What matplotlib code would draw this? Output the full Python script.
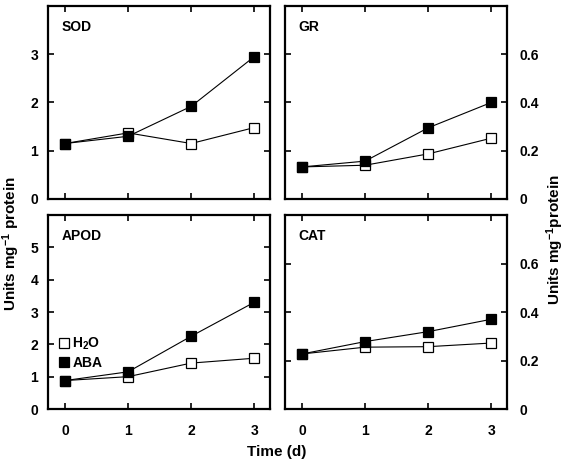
import matplotlib
matplotlib.use("Agg")
import matplotlib.pyplot as plt

plt.rcParams['font.family'] = ['Liberation Sans', 'DejaVu Sans']
plt.rcParams['mathtext.default'] = 'regular'

# Data
days = [0, 1, 2, 3]
sod_h2o = [1.15, 1.37, 1.15, 1.48]
sod_aba = [1.15, 1.30, 1.92, 2.95]
gr_h2o = [0.133, 0.14, 0.187, 0.252]
gr_aba = [0.133, 0.157, 0.295, 0.40]
apod_h2o = [0.88, 1.00, 1.42, 1.57]
apod_aba = [0.88, 1.15, 2.25, 3.30]
cat_h2o = [0.227, 0.255, 0.257, 0.272]
cat_aba = [0.227, 0.278, 0.319, 0.370]

W, H = 565, 461
fig = plt.figure(figsize=(W / 100, H / 100), dpi=100)


def px_axes(left, right, top, bottom):
    return fig.add_axes([left / W, (H - bottom) / H, (right - left) / W, (bottom - top) / H])


def style(ax, name, ylim, yticks, ylabels, right=False, xlabels=False):
    ax.set_xlim(-0.27, 3.25)
    ax.set_ylim(*ylim)
    ax.set_xticks(days)
    ax.set_yticks(yticks)
    ax.set_yticklabels(ylabels)
    ax.tick_params(direction='in', length=4, width=1.2, top=True, right=True,
                   labelsize=10, pad=7)
    ax.tick_params(axis='x', pad=11)
    if right:
        ax.yaxis.tick_right()
        ax.tick_params(axis='y', left=True, right=True, labelleft=False,
                       labelright=True, pad=9)
    if not xlabels:
        ax.set_xticklabels([])
    for lab in ax.get_xticklabels() + ax.get_yticklabels():
        lab.set_fontweight('bold')
    for s in ax.spines.values():
        s.set_linewidth(1.6)
    ax.text(0.06, 0.89, name, transform=ax.transAxes, fontsize=10,
            fontweight='bold', va='center', ha='left')


def draw(ax, h2o, aba):
    ax.plot(days, h2o, '-', color='black', lw=0.8, marker='s', ms=7.5,
            mfc='white', mec='black', mew=0.9, label='H$_2$O', zorder=3)
    ax.plot(days, aba, '-', color='black', lw=0.8, marker='s', ms=7.5,
            mfc='black', mec='black', mew=0.9, label='ABA', zorder=4)


ax1 = px_axes(48, 270, 6, 199)
draw(ax1, sod_h2o, sod_aba)
style(ax1, 'SOD', (0, 4), [0, 1, 2, 3], ['0', '1', '2', '3'])

ax2 = px_axes(285, 507, 6, 199)
draw(ax2, gr_h2o, gr_aba)
style(ax2, 'GR', (0, 0.8), [0, 0.2, 0.4, 0.6], ['0', '0.2', '0.4', '0.6'], right=True)

ax3 = px_axes(48, 270, 215, 409)
draw(ax3, apod_h2o, apod_aba)
style(ax3, 'APOD', (0, 6), [0, 1, 2, 3, 4, 5], ['0', '1', '2', '3', '4', '5'], xlabels=True)
leg = ax3.legend(loc='center left', bbox_to_anchor=(0.01, 0.29), frameon=False,
                 handlelength=0.6, handletextpad=0.3, labelspacing=0.3,
                 borderaxespad=0.3, prop={'size': 10, 'weight': 'bold'})
for line in leg.get_lines():
    line.set_linestyle('none')

ax4 = px_axes(285, 507, 215, 409)
draw(ax4, cat_h2o, cat_aba)
style(ax4, 'CAT', (0, 0.8), [0, 0.2, 0.4, 0.6], ['0', '0.2', '0.4', '0.6'],
      right=True, xlabels=True)

fig.text(11 / W, 1 - 244 / H, 'Units mg$^{-1}$ protein', rotation=90,
         ha='center', va='center', fontsize=11, fontweight='bold')
fig.text(555 / W, 1 - 240 / H, 'Units mg$^{-1}$protein', rotation=90,
         ha='center', va='center', fontsize=11, fontweight='bold')
fig.text(277 / W, 1 - 452 / H, 'Time (d)', ha='center', va='center',
         fontsize=11, fontweight='bold')

fig.savefig('out.png', dpi=100)
